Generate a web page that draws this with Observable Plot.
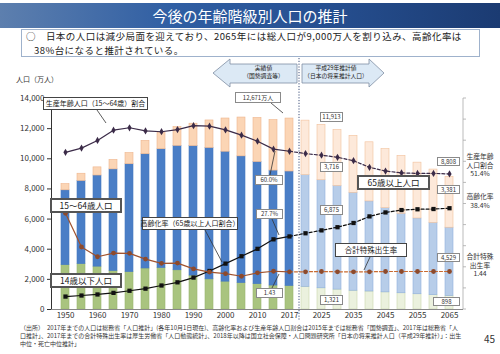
<!DOCTYPE html>
<html><head><meta charset="utf-8">
<script src="https://cdn.jsdelivr.net/npm/d3@7"></script>
<script src="https://cdn.jsdelivr.net/npm/@observablehq/plot@0.6"></script>
<style>
body{margin:0;background:#fff;}
#wrap{position:relative;width:500px;height:354px;overflow:hidden;background:#fff;font-family:"Noto Sans CJK JP","Noto Sans",sans-serif;color:#222;}
.abs{position:absolute;}
.box{position:absolute;background:#fff;border:1px solid #8a8a8a;display:flex;align-items:center;justify-content:center;white-space:nowrap;box-sizing:border-box;line-height:1;}
.cat{border:2px solid #555;font-size:8.5px;}
.lbl{border:1px solid #444;font-size:7px;}
.val{font-size:6px;color:#333;}
.side{position:absolute;text-align:center;font-size:6.8px;line-height:8.5px;color:#333;width:40px;}
.fn{position:absolute;left:20px;font-size:6px;line-height:7px;color:#333;white-space:nowrap;}
.sub{position:absolute;font-size:9.5px;line-height:12px;letter-spacing:0.45px;color:#222;white-space:nowrap;}
</style></head>
<body><div id="wrap"></div>
<script>
// ---- data ----
const years = ["1950","1955","1960","1965","1970","1975","1980","1985","1990","1995","2000","2005","2010","2015","2017","2020","2025","2030","2035","2040","2045","2050","2055","2060","2065"];
const lastActual = "2017";
const xTickLabels = ["1950","1960","1970","1980","1990","2000","2010","2017","2025","2035","2045","2055","2065"];
const yTicks = [0,2000,4000,6000,8000,10000,12000,14000];
// population (10 thousand persons)
const popUnder15 = [2943,3012,2843,2553,2482,2722,2751,2603,2249,2001,1847,1752,1680,1589,1559,1507,1407,1321,1246,1194,1138,1077,1012,951,898];
const pop15to64  = [4966,5517,6047,6744,7157,7581,7883,8251,8590,8716,8622,8409,8103,7629,7596,7406,7170,6875,6494,5978,5584,5275,5028,4793,4529];
const pop65plus  = [411,479,540,624,739,887,1065,1247,1489,1826,2204,2576,2925,3347,3515,3619,3677,3716,3782,3921,3919,3841,3704,3540,3381];
// official totals (incl. rounding / age unknown), used for the total labels
const totalPop   = [8320,9008,9430,9921,10467,11194,11706,12105,12361,12557,12693,12777,12806,12709,12671,12532,12254,11913,11522,11092,10642,10192,9744,9284,8808];
// ratios
const workingAgeShare = [59.6,61.2,64.1,68.0,68.9,67.7,67.4,68.2,69.7,69.5,68.1,66.1,63.8,60.8,60.0,59.1,58.5,57.7,56.4,53.9,52.5,51.8,51.6,51.6,51.4];
const agingRate       = [4.9,5.3,5.7,6.3,7.1,7.9,9.1,10.3,12.1,14.6,17.4,20.2,23.0,26.6,27.7,28.9,30.0,31.2,32.8,35.3,36.8,37.7,38.0,38.1,38.4];
const fertilityRate   = [3.65,2.37,2.00,2.14,2.13,1.91,1.75,1.76,1.54,1.42,1.36,1.26,1.39,1.45,1.43,1.43,1.44,1.43,1.43,1.43,1.44,1.44,1.44,1.44,1.44];
const colorsActual = ["#a9c47f","#4a7ec6","#fbd5b5"];
const colorsProj   = ["#ebf1de","#b7cde9","#fde9da"];
const strokeActual = ["#9ab56e","#4478bf","#eeb58c"];
const strokeProj   = ["#c9d8ab","#8fb0dc","#f2c19c"];
// secondary axes: 80% and 8.0 correspond to 14,000
const pctToPop = 14000/80;
const tfrToPop = 14000/8;

// ---- build ----
const nA = years.indexOf(lastActual);
const bars = [];
years.forEach((yr,i)=>{
  const proj = i>nA;
  [popUnder15[i],pop15to64[i],pop65plus[i]].forEach((v,g)=>bars.push({
    year:yr, value:v,
    fill:(proj?colorsProj:colorsActual)[g],
    stroke:(proj?strokeProj:strokeActual)[g]
  }));
});
const rows = years.map((yr,i)=>({year:yr, work:workingAgeShare[i]*pctToPop, aging:agingRate[i]*pctToPop, tfr:fertilityRate[i]*tfrToPop}));
const act = rows.slice(0,nA+1), proj = rows.slice(nA);

const cWork="#3b2b48", cAging="#111", cTfr="#a0522d", cTfrP="#c8692f";

const chart = Plot.plot({
  width:500, height:354,
  marginTop:98, marginBottom:45, marginLeft:51, marginRight:37,
  style:{fontFamily:"'Noto Sans CJK JP','Noto Sans',sans-serif", fontSize:"8px", color:"#333", background:"transparent"},
  x:{domain:years, paddingInner:0.5, paddingOuter:0.25, label:null, tickSize:0, tickPadding:3,
     tickFormat:d=>xTickLabels.includes(d)?d:""},
  y:{domain:[0,14000], ticks:yTicks, tickFormat:d3.format(","), label:null, line:true, tickSize:4, tickPadding:3},
  color:{type:"identity"},
  marks:[
    Plot.barY(bars,{x:"year", y:"value", fill:"fill", stroke:"stroke", strokeWidth:0.6}),
    Plot.ruleY([0],{stroke:"#888"}),
    Plot.line(act,{x:"year", y:"work", stroke:cWork, strokeWidth:1.2}),
    Plot.line(proj,{x:"year", y:"work", stroke:cWork, strokeWidth:1.2, strokeDasharray:"3,2"}),
    Plot.dot(rows,{x:"year", y:"work", symbol:"diamond", r:2.2, fill:cWork, stroke:"none"}),
    Plot.line(act,{x:"year", y:"aging", stroke:cAging, strokeWidth:1.2}),
    Plot.line(proj,{x:"year", y:"aging", stroke:cAging, strokeWidth:1.2, strokeDasharray:"3,2"}),
    Plot.dot(rows,{x:"year", y:"aging", symbol:"square", r:2.4, fill:cAging, stroke:"none"}),
    Plot.line(act,{x:"year", y:"tfr", stroke:cTfr, strokeWidth:1.2}),
    Plot.line(proj,{x:"year", y:"tfr", stroke:cTfrP, strokeWidth:1.2, strokeDasharray:"3,2"}),
    Plot.dot(rows,{x:"year", y:"tfr", r:2.4, fill:"#8d4a2c", stroke:"none"})
  ]
});

const wrap = document.getElementById("wrap");
const holder = document.createElement("div");
holder.className="abs"; holder.style.left="0"; holder.style.top="0";
holder.appendChild(chart);
wrap.appendChild(holder);

// right axis ticks from y scale
const ys = chart.scale("y");
const yPix = v => ys.apply ? ys.apply(v) : 309 - v/14000*211;
let rTicks = "";
for (let k=0;k<=10;k++){ const py=yPix(k*1400); rTicks += `<line x1="463" x2="466" y1="${py}" y2="${py}" stroke="#aaa" stroke-width="0.8"/>`; }

const fmt = d3.format(",");
const i2017 = nA, i2030 = years.indexOf("2030"), i2065 = years.length-1;

wrap.insertAdjacentHTML("beforeend", `
<div class="abs" style="left:0;top:3px;width:500px;height:25px;background:linear-gradient(to right,#5d7fae 0%,#2f5ea3 35%,#264f90 65%,#1b3b72 100%);"></div>
<div class="abs" style="left:0;top:3px;width:500px;height:25px;line-height:25px;text-align:center;color:#fff;font-size:15px;">今後の年齢階級別人口の推計</div>
<div class="abs" style="left:21px;top:29px;width:459px;height:28px;border:1px solid #9fb2cc;box-sizing:border-box;background:#fff;"></div>
<div class="sub" style="left:26px;top:30px;">○　日本の人口は減少局面を迎えており、2065年には総人口が9,000万人を割り込み、高齢化率は</div>
<div class="sub" style="left:34px;top:44px;">38%台になると推計されている。</div>
<svg class="abs" style="left:0;top:0" width="500" height="354">
  <polygon points="213,73 230,59 230,64 297,64 297,83 230,83 230,87" fill="#dce9f5" stroke="#7f8ea3" stroke-width="0.8"/>
  <polygon points="302,64 369,64 369,59 384,73 369,87 369,83 302,83" fill="#dce9f5" stroke="#7f8ea3" stroke-width="0.8"/>
  <line x1="299" y1="58" x2="299" y2="320" stroke="#2a3f6e" stroke-width="0.9" stroke-dasharray="1.2,1.6"/>
  <line x1="463" y1="${yPix(14000)}" x2="463" y2="${yPix(0)}" stroke="#aaa" stroke-width="0.8"/>
  ${rTicks}
  <g stroke="#333" stroke-width="0.8">
    <line x1="97" y1="110" x2="106" y2="123"/>
    <line x1="271" y1="103" x2="283" y2="113"/>
    <line x1="205" y1="230" x2="222" y2="262"/>
    <line x1="270" y1="175" x2="275" y2="151"/>
    <line x1="272" y1="219" x2="279" y2="235"/>
    <line x1="272" y1="288" x2="279" y2="274"/>
    <line x1="370" y1="257" x2="364" y2="270"/>
  </g>
</svg>
<div class="abs" style="left:230px;top:64px;width:67px;text-align:center;font-size:5.8px;line-height:8px;color:#222;">実績値<br>（国勢調査等）</div>
<div class="abs" style="left:298px;top:64px;width:76px;text-align:center;font-size:5.8px;line-height:8px;color:#222;">平成29年推計値<br>（日本の将来推計人口）</div>
<div class="abs" style="left:16px;top:74px;font-size:7px;color:#333;">人口（万人）</div>
<div class="box lbl" style="left:43px;top:97px;width:105px;height:13px;">生産年齢人口（15～64歳）割合</div>
<div class="box val" style="left:235px;top:92px;width:46px;height:11px;">${fmt(totalPop[i2017])}万人</div>
<div class="box val" style="left:320px;top:112px;width:23px;height:10px;">${fmt(totalPop[i2030])}</div>
<div class="box cat" style="left:50px;top:198px;width:72px;height:15px;">15～64歳人口</div>
<div class="box lbl" style="left:142px;top:217px;width:96px;height:13px;">高齢化率（65歳以上人口割合）</div>
<div class="box cat" style="left:50px;top:273px;width:72px;height:15px;">14歳以下人口</div>
<div class="box cat" style="left:357px;top:175px;width:73px;height:15px;">65歳以上人口</div>
<div class="box lbl" style="left:335px;top:243px;width:72px;height:14px;font-size:7.5px;">合計特殊出生率</div>
<div class="box val" style="left:320px;top:162px;width:23px;height:10px;">${fmt(pop65plus[i2030])}</div>
<div class="box val" style="left:320px;top:205px;width:23px;height:10px;">${fmt(pop15to64[i2030])}</div>
<div class="box val" style="left:320px;top:295px;width:23px;height:10px;">${fmt(popUnder15[i2030])}</div>
<div class="box val" style="left:255px;top:175px;width:28px;height:10px;">${workingAgeShare[i2017].toFixed(1)}%</div>
<div class="box val" style="left:256px;top:209px;width:27px;height:10px;">${agingRate[i2017].toFixed(1)}%</div>
<div class="box val" style="left:256px;top:288px;width:27px;height:10px;">${fertilityRate[i2017].toFixed(2)}</div>
<div class="box val" style="left:437px;top:157px;width:23px;height:9px;">${fmt(totalPop[i2065])}</div>
<div class="box val" style="left:437px;top:185px;width:23px;height:9px;">${fmt(pop65plus[i2065])}</div>
<div class="box val" style="left:437px;top:253px;width:23px;height:9px;">${fmt(pop15to64[i2065])}</div>
<div class="box val" style="left:433px;top:297px;width:27px;height:9px;">${fmt(popUnder15[i2065])}</div>
<div class="side" style="left:460px;top:152px;">生産年齢<br>人口割合<br>${workingAgeShare[i2065].toFixed(1)}%</div>
<div class="side" style="left:460px;top:192px;">高齢化率<br>${agingRate[i2065].toFixed(1)}%</div>
<div class="side" style="left:460px;top:252px;">合計特殊<br>出生率<br>${fertilityRate[i2065].toFixed(2)}</div>
<div class="fn" style="top:324px;">（出所）　2017年までの人口は総務省「人口推計」(各年10月1日現在)、高齢化率および生産年齢人口割合は2015年までは総務省「国勢調査」、2017年は総務省「人</div>
<div class="fn" style="top:332px;">口推計」、2017年までの合計特殊出生率は厚生労働省「人口動態統計」、2018年以降は国立社会保障・人口問題研究所「日本の将来推計人口（平成29年推計）」：出生</div>
<div class="fn" style="top:340px;">中位・死亡中位推計」</div>
<div class="abs" style="left:484px;top:331px;font-size:10px;color:#333;">45</div>
`);
</script>
</body></html>
